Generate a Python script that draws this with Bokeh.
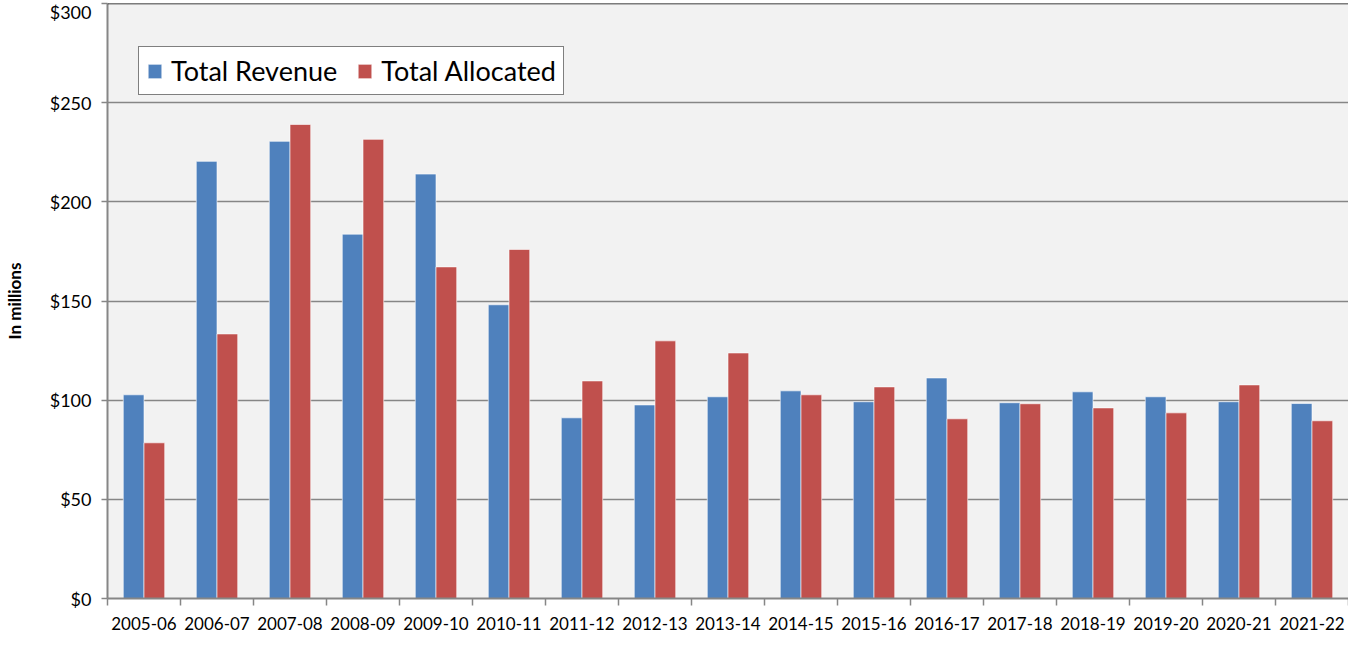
from bokeh.plotting import figure
from bokeh.models import ColumnDataSource, FixedTicker, NumeralTickFormatter, Range1d, Legend, LegendItem, Span
from bokeh.transform import dodge
from bokeh.embed import file_html
from bokeh.resources import INLINE

years = ["2005-06", "2006-07", "2007-08", "2008-09", "2009-10", "2010-11", "2011-12", "2012-13",
         "2013-14", "2014-15", "2015-16", "2016-17", "2017-18", "2018-19", "2019-20", "2020-21", "2021-22"]
total_revenue = [102.7, 220.4, 230.5, 183.7, 214.0, 148.1, 91.1, 97.6, 101.7, 104.7, 99.2, 111.2,
                 98.7, 104.2, 101.7, 99.2, 98.3]
total_allocated = [78.5, 133.4, 239.0, 231.5, 167.2, 176.0, 109.7, 129.9, 123.8, 102.7, 106.7, 90.6,
                   98.2, 96.1, 93.6, 107.7, 89.6]
y_ticks = [0, 50, 100, 150, 200, 250, 300]

n = len(years)
pos = [i + 0.5 for i in range(n)]
src = ColumnDataSource(dict(x=pos, rev=total_revenue, alloc=total_allocated))

FONT = "Lato"
GRAY = "#868686"

p = figure(width=1348, height=632, output_backend="svg", toolbar_location=None,
           x_range=Range1d(0, n), y_range=Range1d(0, 300),
           min_border_left=96, min_border_right=0, min_border_top=3, min_border_bottom=28)
p.background_fill_color = "#F2F2F2"
p.border_fill_color = "white"
p.outline_line_color = None

r1 = p.vbar(x=dodge("x", -0.142, range=p.x_range), top="rev", width=0.284, source=src,
            fill_color="#4F81BD", line_color="white", line_alpha=0.6, line_width=1)
r2 = p.vbar(x=dodge("x", 0.142, range=p.x_range), top="alloc", width=0.284, source=src,
            fill_color="#C0504D", line_color="white", line_alpha=0.6, line_width=1)

p.add_layout(Span(location=300, dimension="width", line_color="black", line_width=1.5))

# x axis: labels at centers, tick marks at category boundaries
xa = p.xaxis[0]
xa.ticker = FixedTicker(ticks=pos, minor_ticks=list(range(n + 1)))
xa.major_label_overrides = {p_: y for p_, y in zip(pos, years)}
xa.major_tick_line_color = None
xa.minor_tick_in = 0
xa.minor_tick_out = 7
xa.minor_tick_line_color = GRAY
xa.minor_tick_line_width = 1.5
xa.axis_line_color = GRAY
xa.axis_line_width = 2
xa.major_label_text_font = FONT
xa.major_label_text_font_size = "17px"
xa.major_label_text_color = "black"
xa.major_label_standoff = 11

ya = p.yaxis[0]
ya.ticker = FixedTicker(ticks=y_ticks)
ya.formatter = NumeralTickFormatter(format="$0")
ya.minor_tick_line_color = None
ya.major_tick_in = 0
ya.major_tick_out = 6
ya.major_tick_line_color = GRAY
ya.major_tick_line_width = 1.5
ya.axis_line_color = GRAY
ya.axis_line_width = 2
ya.major_label_text_font = FONT
ya.major_label_text_font_size = "18px"
ya.major_label_text_color = "black"
ya.major_label_standoff = 10
ya.axis_label = "In millions"
ya.axis_label_text_font = FONT
ya.axis_label_text_font_style = "bold"
ya.axis_label_text_font_size = "17px"
ya.axis_label_text_color = "black"
ya.axis_label_standoff = 22

p.xgrid.grid_line_color = None
p.ygrid.grid_line_color = GRAY
p.ygrid.grid_line_width = 1.5

legend = Legend(items=[LegendItem(label="Total Revenue", renderers=[r1]),
                       LegendItem(label="Total Allocated", renderers=[r2])],
                location=(31, 503), orientation="horizontal")
legend.margin = 0
legend.padding = 7
legend.spacing = 19
legend.border_line_color = "black"
legend.border_line_width = 1.5
legend.background_fill_color = "white"
legend.background_fill_alpha = 1
legend.label_text_font = FONT
legend.label_text_font_size = "27px"
legend.label_text_color = "black"
legend.glyph_width = 17
legend.glyph_height = 18
legend.label_standoff = 8
legend.label_height = 30
p.add_layout(legend)

open("out.html", "w").write(file_html(p, INLINE))
